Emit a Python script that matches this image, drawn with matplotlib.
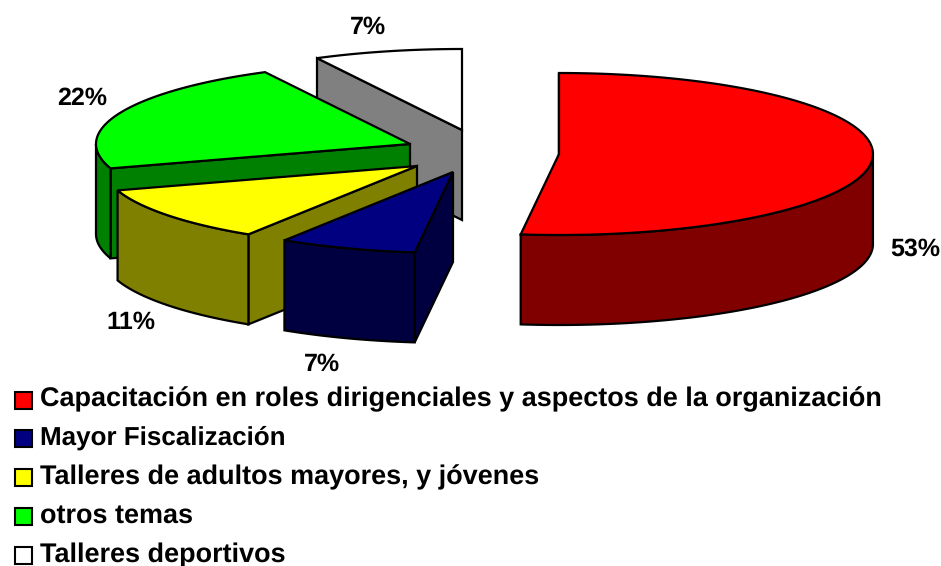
import numpy as np
import matplotlib
matplotlib.use("Agg")
import matplotlib.pyplot as plt

plt.rcParams['font.family'] = ['Liberation Sans', 'DejaVu Sans']
plt.rcParams['text.hinting'] = 'no_hinting'
plt.rcParams['text.hinting_factor'] = 1

categorias = ["Capacitación en roles dirigenciales y aspectos de la organización",
              "Mayor Fiscalización",
              "Talleres de adultos mayores, y jóvenes",
              "otros temas",
              "Talleres deportivos"]
valores = [53, 7, 11, 22, 7]
etiquetas = ["53%", "7%", "11%", "22%", "7%"]
colores = ["#ff0000", "#000080", "#ffff00", "#00ff00", "#ffffff"]
oscuros = ["#800000", "#000040", "#808000", "#008000", "#808080"]

# exploded apex of each slice, in pixels
apices = [(559, 154), (453, 172), (417, 166), (410, 144), (462, 130)]
pos_etiquetas = [(915, 249), (322, 364), (131, 322), (82, 98), (368, 27)]
rx, ry, alto = 314, 81, 90
grosor = 1.6
# the reference has loose letter spacing, sizes nudged per line so the widths agree
tamanos = [19.2, 18.6, 19.4, 19.4, 19.4]


def corregir(theta):
    # original is drawn in perspective, front angles come out a bit smaller
    return theta + np.interp(theta, [0, 190, 335, 360], [0, -3.8, -2.3, 0])


def punto(cx, cy, theta):
    # theta is clockwise from the top of the ellipse
    t = np.radians(theta)
    return cx + rx * np.sin(t), cy - ry * np.cos(t)


fig = plt.figure(figsize=(9.41, 5.66), dpi=100)
ax = fig.add_axes([0, 0, 1, 1])
ax.set_xlim(0, 941)
ax.set_ylim(566, 0)
ax.axis("off")

acum = np.cumsum([0] + valores) / sum(valores) * 360
orden = [4, 3, 2, 1, 0]
for i in orden:
    cx, cy = apices[i]
    a0, a1 = corregir(acum[i]), corregir(acum[i + 1])
    th = np.linspace(a0, a1, 120)
    xs, ys = punto(cx, cy, th)

    # cut face on the starting side
    ax.fill([cx, xs[0], xs[0], cx], [cy, ys[0], ys[0] + alto, cy + alto],
            facecolor=oscuros[i], edgecolor="black", lw=grosor, zorder=i * -3 + 20)

    # rim, only the part that faces the viewer
    m = (th > 90) & (th < 270)
    if m.any():
        xr, yr = xs[m], ys[m]
        ax.fill(np.r_[xr, xr[::-1]], np.r_[yr, yr[::-1] + alto],
                facecolor=oscuros[i], edgecolor="black", lw=grosor, zorder=i * -3 + 21)

    ax.fill(np.r_[cx, xs], np.r_[cy, ys], facecolor=colores[i], edgecolor="black",
            lw=grosor, zorder=i * -3 + 22)

for (x, y), e in zip(pos_etiquetas, etiquetas):
    ax.text(x, y, e, ha="center", va="center", fontsize=18, fontweight="bold")

for k, (c, color) in enumerate(zip(categorias, colores)):
    ax.add_patch(plt.Rectangle((15.5, 391.5 + k * 38.8), 17, 17, facecolor=color,
                               edgecolor="black", lw=1.5))
    ax.text(40, 406 + k * 39, c, ha="left", va="baseline", fontsize=tamanos[k], fontweight="bold")

fig.savefig("out.png", dpi=100)
